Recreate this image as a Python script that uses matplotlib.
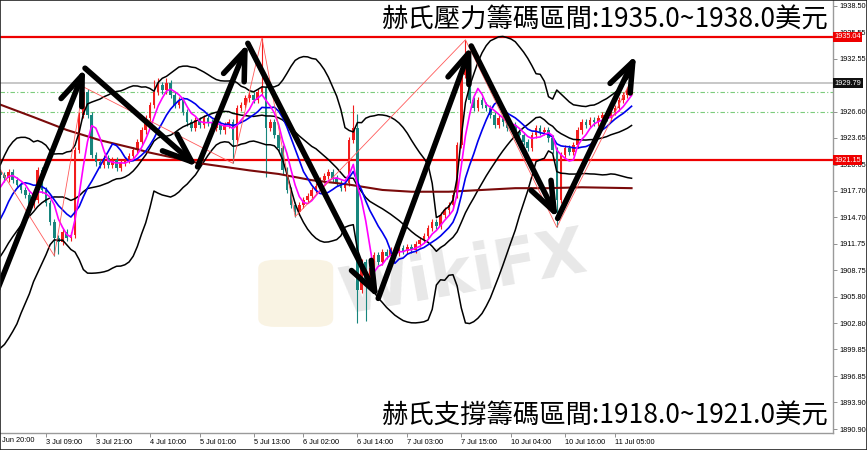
import numpy as np
import pandas as pd
import matplotlib
matplotlib.use('Agg')
import matplotlib.pyplot as plt
from matplotlib.patches import FancyBboxPatch, Rectangle

# ---------------- data (XAUUSD H1) ----------------
prior_closes = [1904.5, 1903.8, 1904.9, 1905.6, 1904.8, 1906.2, 1907.0, 1906.5, 1908.4,
                1909.3, 1910.0, 1909.2, 1910.4, 1912.1, 1913.0, 1915.6, 1917.2, 1918.4, 1919.8]

closes = [1919.5, 1919.1, 1919.8, 1918.9, 1918.4, 1917.8, 1917.2, 1916.1, 1916.7, 1920.0,
          1917.8, 1916.3, 1914.2, 1912.4, 1911.9, 1913.1, 1912.4, 1912.7, 1922.3, 1926.2,
          1928.8, 1926.2, 1921.7, 1920.9, 1920.6, 1921.4, 1920.6, 1921.2, 1920.3, 1920.8,
          1921.2, 1921.6, 1922.3, 1923.2, 1924.5, 1925.9, 1927.4, 1928.8, 1929.6, 1929.0,
          1929.8, 1928.5, 1927.4, 1927.9, 1926.6, 1925.4, 1924.8, 1925.7, 1925.1, 1925.9,
          1925.4, 1924.8, 1925.2, 1924.5, 1925.1, 1925.4, 1923.4, 1927.0, 1927.4, 1928.1,
          1928.5, 1927.9, 1928.8, 1929.3, 1924.8, 1925.4, 1924.0, 1922.5, 1920.0, 1917.8,
          1916.1, 1915.3, 1916.1, 1916.7, 1917.1, 1917.8, 1918.2, 1918.9, 1919.4, 1919.8,
          1919.1, 1918.6, 1918.0, 1918.6, 1923.4, 1924.8, 1906.5, 1909.7, 1907.1, 1909.0,
          1910.5, 1909.7, 1910.8, 1910.4, 1911.0, 1910.7, 1911.3, 1910.9, 1911.4, 1911.0,
          1911.7, 1912.2, 1912.6, 1913.5, 1914.2, 1913.7, 1915.0, 1915.5, 1916.1, 1917.2,
          1922.9, 1930.7, 1932.6, 1927.9, 1927.0, 1927.9, 1927.4, 1927.0, 1926.2, 1925.1,
          1925.9, 1925.4, 1924.8, 1925.1, 1924.3, 1924.0, 1923.2, 1922.5, 1924.0, 1924.8,
          1924.3, 1924.5, 1923.6, 1922.3, 1916.7, 1921.7, 1922.5, 1922.1, 1922.9, 1924.5,
          1925.4, 1925.1, 1925.7, 1925.4, 1925.9, 1926.2, 1925.9, 1926.6, 1927.0, 1927.9,
          1928.5, 1929.0, 1929.79]

wick_high = {20: 1929.4, 37: 1930.2, 38: 1930.4, 40: 1930.4, 63: 1934.9, 85: 1927.4,
             86: 1926.3, 111: 1931.5, 112: 1934.7, 152: 1930.2}
wick_low = {13: 1910.4, 14: 1910.6, 56: 1920.8, 64: 1919.3, 71: 1914.8, 86: 1902.8,
            88: 1903.0, 134: 1913.6}

ma_long_bars = [0, 8, 16, 24, 32, 36, 48, 60, 67, 75, 84, 92, 99, 108, 116, 124, 132, 140, 152]
ma_long_vals = [1927.4, 1926.0, 1924.55, 1923.4, 1922.5, 1922.0, 1920.8, 1920.0, 1919.6, 1918.9,
                1918.4, 1917.8, 1917.6, 1917.6, 1917.8, 1918.0, 1918.0, 1918.1, 1918.0]

zigzag_bars = [0, 13, 20, 56, 63, 71, 112, 134, 152]
zigzag_vals = [1920.1, 1910.4, 1929.4, 1920.8, 1934.9, 1914.8, 1934.7, 1913.6, 1930.2]

arrow_bars = [-1.0, 20.4, 47.5, 59.6, 91.0, 113.4, 134.2, 153.1]
arrow_vals = [1906.2, 1931.5, 1920.4, 1934.3, 1905.6, 1934.0, 1914.6, 1933.0]

resist_level = 1935.04
support_level = 1921.15
bid_level = 1929.79
green_levels = [1928.80, 1926.55]

ytick_vals = [1938.50, 1935.55, 1932.55, 1929.60, 1926.60, 1923.65, 1920.65, 1917.70,
              1914.70, 1911.75, 1908.75, 1905.80, 1902.80, 1899.85, 1896.85, 1893.90, 1890.90]
hidden_ytick = 1929.60   # covered by the bid label in the reference
xtick_bars = [11, 23, 36, 48, 61, 73, 86, 98, 111, 123, 136, 148]
xtick_labels = ['3 Jul 09:00', '3 Jul 21:00', '4 Jul 10:00', '5 Jul 01:00', '5 Jul 13:00',
                '6 Jul 02:00', '6 Jul 14:00', '7 Jul 03:00', '7 Jul 15:00', '10 Jul 04:00',
                '10 Jul 16:00', '11 Jul 05:00']
first_label = 'Jun 20:00'

title_top = '赫氏壓力籌碼區間:1935.0~1938.0美元'
title_bottom = '赫氏支撐籌碼區間:1918.0~1921.0美元'

# ---------------- figure ----------------
W, H = 867, 450
fig = plt.figure(figsize=(W / 100, H / 100), dpi=100)
fig.patch.set_facecolor('white')
ax = fig.add_axes([0, (H - 433) / H, 833 / W, 433 / H])
ax.set_facecolor('white')

all_c = pd.Series(prior_closes + closes, dtype=float)
n_prior = len(prior_closes)
x_all = np.arange(-n_prior, len(closes))
opens_all = all_c.shift(1)

c = np.array(closes)
o = opens_all.values[n_prior:]
idx = np.arange(len(closes))
hi = np.maximum(o, c) + 0.35
lo = np.minimum(o, c) - 0.35
for k, v in wick_high.items():
    hi[k] = v
for k, v in wick_low.items():
    lo[k] = v

RED = '#f21d1d'
TEAL = '#17857d'
up = c >= o
dn = ~up
ax.vlines(idx[up], lo[up], hi[up], color=RED, lw=0.8, zorder=2)
ax.vlines(idx[dn], lo[dn], hi[dn], color=TEAL, lw=0.8, zorder=2)
ax.bar(idx[up], np.maximum(c - o, 0.1)[up], bottom=o[up], width=0.62, color=RED, zorder=2.1, linewidth=0)
ax.bar(idx[dn], np.maximum(o - c, 0.1)[dn], bottom=c[dn], width=0.62, color=TEAL, zorder=2.1, linewidth=0)

# indicators
sma5 = all_c.rolling(5).mean()
sma10 = all_c.rolling(10).mean()
mid = all_c.rolling(20).mean()
sd = all_c.rolling(20).std(ddof=0)
vis = x_all >= 0
for s in (mid + 2 * sd, mid, mid - 2 * sd):
    ax.plot(x_all[vis], s.values[vis], color='black', lw=1.1, zorder=3)
ax.plot(ma_long_bars, ma_long_vals, color='#7a0a0a', lw=1.5, zorder=3)
ax.plot(x_all[vis], sma10.values[vis], color='#0000ee', lw=1.2, zorder=3.4)
ax.plot(x_all[vis], sma5.values[vis], color='#ff00ff', lw=1.2, zorder=3.5)
ax.plot(zigzag_bars, zigzag_vals, color='#ff5a5a', lw=0.6, zorder=3.6)

# horizontal levels
ax.axhline(resist_level, color='#ee0000', lw=1.6, zorder=1.5)
ax.axhline(support_level, color='#ee0000', lw=1.6, zorder=1.5)
ax.axhline(bid_level, color='#bdbdbd', lw=1.2, zorder=1.2)
for g in green_levels:
    ax.axhline(g, color='#7ccc7c', lw=0.8, dashes=(4, 2, 1, 2), zorder=1.2)

# arrows
for i in range(len(arrow_bars) - 1):
    ax.annotate('', xy=(arrow_bars[i + 1], arrow_vals[i + 1]),
                xytext=(arrow_bars[i], arrow_vals[i]),
                arrowprops=dict(arrowstyle='->,head_length=1.05,head_width=0.4',
                                mutation_scale=20, lw=4.0, color='black',
                                shrinkA=0, shrinkB=0, capstyle='round', joinstyle='round'),
                zorder=6, annotation_clip=False)

# watermark
ax.add_patch(FancyBboxPatch((0.31, 0.245), 0.09, 0.155, boxstyle='round,pad=0.0,rounding_size=0.02',
                            transform=ax.transAxes, fc='#f9f1de', ec='none', zorder=0.6, alpha=0.85))
ax.text(0.556, 0.365, 'WikiFX', transform=ax.transAxes, fontsize=46, fontweight='bold',
        color='#e8e8e8', rotation=10, ha='center', va='center', zorder=0.7, family='DejaVu Sans')

# axes limits / ticks
sp = 4.153
ax.set_xlim((0 - 0.3) / sp, (833 - 0.3) / sp)
ax.set_ylim(1890.45, 1939.175)

FS = 5.3
ax.yaxis.tick_right()
ax.set_yticks(ytick_vals)
ax.set_yticklabels(['' if v == hidden_ytick else '%.2f' % v for v in ytick_vals])
ax.set_xticks(xtick_bars)
ax.set_xticklabels(xtick_labels)
ax.tick_params(axis='both', length=3, width=0.6, color='#808080', labelsize=FS, pad=1.5)
for lab in ax.get_xticklabels():
    lab.set_horizontalalignment('left')
    lab.set_family('Liberation Sans')
for lab in ax.get_yticklabels():
    lab.set_family('Liberation Sans')
ax.text(0.5, -0.0085, first_label, transform=ax.get_xaxis_transform(), ha='left', va='top',
        fontsize=FS, family='Liberation Sans')

for s in ('left', 'top'):
    ax.spines[s].set_visible(False)
for s in ('right', 'bottom'):
    ax.spines[s].set_color('#9a9a9a')
    ax.spines[s].set_linewidth(1.0)

# price labels on right scale
for level, fc in ((resist_level, '#ee0000'), (support_level, '#ee0000'), (bid_level, '#111111')):
    ax.annotate('%.2f' % level, xy=(1, level), xycoords=('axes fraction', 'data'),
                xytext=(1.0, 0), textcoords='offset points', ha='left', va='center',
                fontsize=FS, color='white', family='Liberation Sans',
                bbox=dict(boxstyle='square,pad=0.2', fc=fc, ec='none'),
                annotation_clip=False, zorder=10)

# headline texts
cjk = ['Noto Sans CJK TC', 'DejaVu Sans']
fig.text(828 / W, 1 - 20 / H, title_top, ha='right', va='center', fontsize=19, family=cjk, color='black')
fig.text(828 / W, 1 - 416 / H, title_bottom, ha='right', va='center', fontsize=19, family=cjk, color='black')

# outer frame
fig.patches.append(Rectangle((0, 0), 1, 1, transform=fig.transFigure, fill=False,
                             ec='#222222', lw=1.2, zorder=20))

fig.savefig('out.png', dpi=100, facecolor='white')
